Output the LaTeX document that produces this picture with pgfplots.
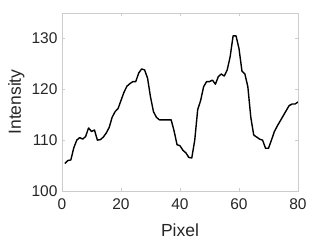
\documentclass[border=0pt]{standalone}
\usepackage{pgfplots}
\pgfplotsset{compat=1.18}
\usepackage{fontspec}
\setmainfont{Liberation Sans}
\definecolor{boxgray}{gray}{0.8}
\definecolor{txtgray}{RGB}{38,38,38}
\begin{document}
\begin{tikzpicture}
\begin{axis}[
  at={(0,0)}, anchor=south west,
  scale only axis, width=236bp, height=178bp,
  xmin=0, xmax=80, ymin=100, ymax=135,
  xtick={0,20,40,60,80}, ytick={100,110,120,130},
  tick align=inside, major tick length=3bp,
  axis line style={boxgray, line width=0.6bp},
  tick style={boxgray, line width=0.6bp},
  ticklabel style={font=\fontsize{15.5bp}{18bp}\selectfont, text=txtgray},
  /pgf/number format/assume math mode=true,
  xticklabel style={yshift=-4bp},
  yticklabel style={xshift=-1bp},
  xlabel={Pixel}, ylabel={Intensity},
  label style={font=\fontsize{17.5bp}{20bp}\selectfont, text=txtgray},
  xlabel style={at={(axis description cs:0.5,0)}, anchor=base, yshift=-45.7bp},
  ylabel style={at={(axis description cs:0,0.5)}, anchor=base, rotate=0, xshift=0bp, yshift=41bp},
]
\addplot[black, line width=1.4bp, line join=round] coordinates {
(1,105.4) (2,106) (3,106.1) (4,108.5) (5,110) (6,110.5) (7,110.2) (8,110.7)
(9,112.4) (10,111.7) (11,112) (12,110) (13,110.1) (14,110.6) (15,111.4)
(16,112.5) (17,114.5) (18,115.6) (19,116.2) (20,117.8) (21,119.4) (22,120.6)
(23,121.1) (24,121.5) (25,121.5) (26,123.2) (27,124) (28,123.8) (29,122.2)
(30,118.5) (31,115.6) (32,114.5) (33,114) (34,114) (35,114) (36,114) (37,114)
(38,111.8) (39,109.1) (40,108.9) (41,108) (42,107.5) (43,106.6) (44,106.5)
(45,110) (46,116) (47,117.8) (48,120.5) (49,121.5) (50,121.5) (51,121.8)
(52,121) (53,122.5) (54,123) (55,122.6) (56,123.8) (57,126.4) (58,130.5)
(59,130.5) (60,128) (61,123.6) (62,123) (63,120.5) (64,114.5) (65,111)
(66,110.6) (67,110.2) (68,110) (69,108.4) (70,108.4) (71,110) (72,111.7)
(73,112.8) (74,113.8) (75,114.8) (76,115.8) (77,116.8) (78,117.1) (79,117.1)
(80,117.5)
};
\end{axis}
\pgfresetboundingbox
\path[use as bounding box] (-62bp,-55bp) rectangle (257bp,191bp);
\end{tikzpicture}
\end{document}
